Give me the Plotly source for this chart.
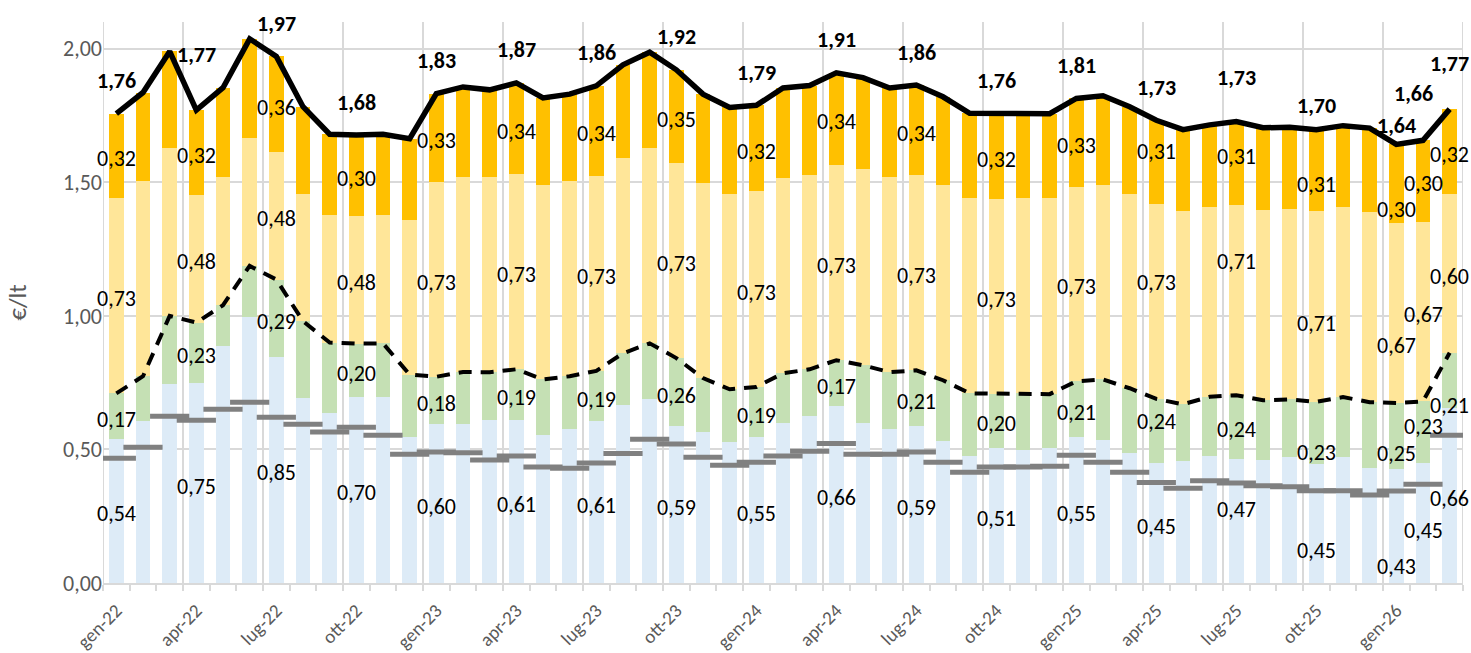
import plotly.graph_objects as go

# mesi (categorie)
periodi = ['gen-22', 'feb-22', 'mar-22', 'apr-22', 'mag-22', 'giu-22', 'lug-22', 'ago-22', 'set-22', 'ott-22', 'nov-22', 'dic-22',
           'gen-23', 'feb-23', 'mar-23', 'apr-23', 'mag-23', 'giu-23', 'lug-23', 'ago-23', 'set-23', 'ott-23', 'nov-23', 'dic-23',
           'gen-24', 'feb-24', 'mar-24', 'apr-24', 'mag-24', 'giu-24', 'lug-24', 'ago-24', 'set-24', 'ott-24', 'nov-24', 'dic-24',
           'gen-25', 'feb-25', 'mar-25', 'apr-25', 'mag-25', 'giu-25', 'lug-25', 'ago-25', 'set-25', 'ott-25', 'nov-25', 'dic-25',
           'gen-26', 'feb-26', 'mar-26']

# componenti del prezzo (€/lt)
costo_prodotto = [0.540, 0.606, 0.744, 0.748, 0.886, 0.994, 0.847, 0.692, 0.635, 0.698, 0.695, 0.545,
                  0.596, 0.594, 0.609, 0.609, 0.553, 0.575, 0.606, 0.665, 0.688, 0.586, 0.564, 0.527,
                  0.546, 0.598, 0.624, 0.662, 0.600, 0.578, 0.587, 0.531, 0.475, 0.507, 0.497, 0.504,
                  0.546, 0.535, 0.486, 0.449, 0.456, 0.475, 0.466, 0.460, 0.472, 0.446, 0.471, 0.430,
                  0.426, 0.448, 0.656]
margine = [0.170, 0.168, 0.256, 0.227, 0.154, 0.193, 0.289, 0.288, 0.265, 0.198, 0.202, 0.235,
           0.176, 0.196, 0.180, 0.191, 0.209, 0.199, 0.188, 0.195, 0.209, 0.256, 0.203, 0.198,
           0.188, 0.187, 0.176, 0.172, 0.215, 0.211, 0.209, 0.228, 0.235, 0.202, 0.213, 0.203,
           0.209, 0.227, 0.243, 0.240, 0.213, 0.222, 0.237, 0.224, 0.215, 0.232, 0.225, 0.247,
           0.248, 0.232, 0.206]
accise = [0.730, 0.729, 0.630, 0.478, 0.478, 0.478, 0.479, 0.478, 0.478, 0.479, 0.481, 0.580,
          0.728, 0.730, 0.729, 0.730, 0.726, 0.729, 0.731, 0.730, 0.730, 0.730, 0.731, 0.731,
          0.732, 0.730, 0.729, 0.732, 0.733, 0.729, 0.731, 0.732, 0.732, 0.729, 0.730, 0.733,
          0.729, 0.729, 0.728, 0.729, 0.723, 0.710, 0.713, 0.713, 0.713, 0.713, 0.713, 0.713,
          0.672, 0.673, 0.596]
iva = [0.317, 0.333, 0.360, 0.317, 0.336, 0.372, 0.356, 0.325, 0.302, 0.302, 0.302, 0.303,
       0.332, 0.337, 0.328, 0.342, 0.328, 0.327, 0.336, 0.350, 0.360, 0.349, 0.332, 0.324,
       0.322, 0.338, 0.333, 0.344, 0.344, 0.335, 0.337, 0.329, 0.316, 0.318, 0.317, 0.317,
       0.330, 0.333, 0.326, 0.314, 0.305, 0.308, 0.311, 0.307, 0.306, 0.306, 0.303, 0.313,
       0.296, 0.304, 0.316]
# quotazione di riferimento (trattini grigi)
quotazione = [0.467, 0.508, 0.624, 0.609, 0.650, 0.677, 0.620, 0.594, 0.565, 0.583, 0.553, 0.482,
              0.490, 0.488, 0.460, 0.475, 0.434, 0.430, 0.449, 0.485, 0.538, 0.520, 0.471, 0.441,
              0.452, 0.475, 0.493, 0.522, 0.482, 0.482, 0.490, 0.452, 0.415, 0.434, 0.434, 0.437,
              0.478, 0.452, 0.415, 0.376, 0.355, 0.383, 0.374, 0.364, 0.360, 0.345, 0.345, 0.329,
              0.344, 0.370, 0.553]

# mesi con etichette
mesi_etichetta = [0, 3, 6, 9, 12, 15, 18, 21, 24, 27, 30, 33, 36, 39, 42, 45, 48, 49, 50]

FONT = 'Calibri, Carlito, Lato, sans-serif'
colori = ['#DDEBF7', '#C5E0B4', '#FFE699', '#FFC000']
serie = [costo_prodotto, margine, accise, iva]
nomi = ['Costo prodotto', 'Margine', 'Accise', 'IVA']

x = list(range(len(periodi)))
totale = [sum(v) for v in zip(*serie)]
industriale = [a + b for a, b in zip(costo_prodotto, margine)]


def fmt(v):
    return f"{v:.2f}".replace('.', ',')


fig = go.Figure()

for s, nome, col in zip(serie, nomi, colori):
    fig.add_trace(go.Bar(x=x, y=s, name=nome, marker=dict(color=col, line=dict(width=0)),
                         width=0.56, hoverinfo='skip'))

fig.add_trace(go.Scatter(x=x, y=quotazione, mode='markers', name='Quotazione',
                         marker=dict(symbol='line-ew', size=28, line=dict(color='#808080', width=5)),
                         hoverinfo='skip'))
fig.add_trace(go.Scatter(x=x, y=industriale, mode='lines', name='Prezzo industriale',
                         line=dict(color='black', width=4, dash='13px,9px'), hoverinfo='skip'))
fig.add_trace(go.Scatter(x=x, y=totale, mode='lines', name='Prezzo al consumo',
                         line=dict(color='black', width=5.5), hoverinfo='skip'))

# spostamenti manuali delle etichette (px, positivo = su)
spost_seg = {(39, 1): 13, (39, 2): 22, (39, 3): 14,
             (42, 0): 14, (42, 2): 41, (42, 3): 10,
             (45, 0): -24, (45, 1): -17, (45, 2): -14, (45, 3): -11,
             (48, 0): -37, (48, 1): -14, (48, 2): -29, (48, 3): -23,
             (49, 0): -4, (49, 1): 9,
             (50, 1): -22}
spost_tot = {3: 56, 42: 44, 45: 24, 48: 19, 49: 47, 50: 46}

for i in mesi_etichetta:
    base = 0
    for k, s in enumerate(serie):
        fig.add_annotation(x=i, y=base + s[i] / 2, text=fmt(s[i]), showarrow=False,
                           yshift=spost_seg.get((i, k), 0) - 3,
                           font=dict(family=FONT, size=22, color='black'))
        base += s[i]
    fig.add_annotation(x=i, y=totale[i], text='<b>' + fmt(totale[i]) + '</b>', showarrow=False,
                       yshift=spost_tot.get(i, 33), xshift=-10 if i == 49 else 0,
                       font=dict(family=FONT, size=22, color='black'))

# griglia verticale ogni trimestre
for b in range(0, len(periodi) + 1, 3):
    fig.add_shape(type='line', x0=b - 0.5, x1=b - 0.5, y0=0, y1=1, xref='x', yref='paper',
                  line=dict(color='#D9D9D9', width=2), layer='below')

fig.update_layout(
    width=1471, height=653,
    margin=dict(l=103, r=8, t=22, b=70),
    barmode='stack',
    showlegend=False,
    plot_bgcolor='white', paper_bgcolor='white',
    separators=',.',
    font=dict(family=FONT, color='#595959'),
)
fig.update_xaxes(
    range=[-0.5, len(periodi) - 0.5], automargin=False,
    tickmode='array', tickvals=x[::3], ticktext=periodi[::3],
    tickangle=-45, tickfont=dict(size=19, color='#595959'),
    ticks='', ticklabelstandoff=7, showgrid=False, zeroline=False,
    showline=True, linecolor='#D9D9D9', linewidth=2,
    minor=dict(tickvals=[v - 0.5 for v in range(len(periodi) + 1)], ticks='outside',
               ticklen=6, tickwidth=2, tickcolor='#D9D9D9', showgrid=False),
)
fig.update_yaxes(
    range=[0, 2.1], tickvals=[0, 0.5, 1, 1.5, 2], tickformat='.2f', automargin=False,
    tickfont=dict(size=22, color='#595959'),
    showgrid=True, gridcolor='#D9D9D9', gridwidth=2, zeroline=False,
    title=dict(text='€/lt', font=dict(size=25, color='#595959'), standoff=29),
    ticks='', showline=False,
)

fig.write_html("out.html", config={'displayModeBar': False},
               post_script="document.body.style.margin='0';")
